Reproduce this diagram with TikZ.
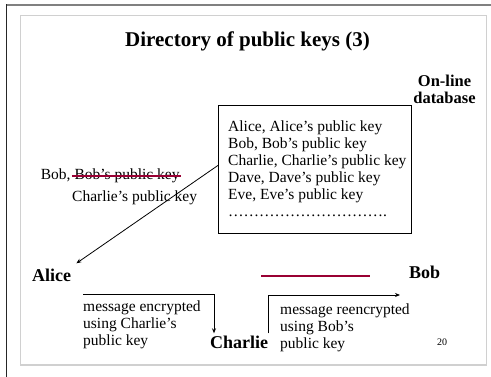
\documentclass[tikz,border=0pt]{standalone}
\usepackage{fontspec}
\setmainfont{Liberation Serif}
\usetikzlibrary{arrows.meta}
\definecolor{wine}{HTML}{990033}
\definecolor{framegray}{HTML}{D0D0D0}
\begin{document}
\begin{tikzpicture}[x=1pt,y=-1pt,
  body/.style={font=\fontsize{15.5}{17}\selectfont, inner sep=0pt, align=left},
  person/.style={font=\fontsize{18}{20}\selectfont\bfseries, inner sep=0pt},
  conn/.style={line width=0.8pt, -{Stealth[length=5pt,width=4pt]}}]
\useasboundingbox (0,0) rectangle (491,377);
% slide edges
\draw[line width=1.5pt, gray] (6,5) -- (491,5);
\draw[line width=1.5pt, black!85] (6.5,4.3) -- (6.5,377);
\draw[line width=1.2pt, framegray] (20.5,15.5) rectangle (486.5,365);
% title
\node[font=\fontsize{21}{24}\selectfont\bfseries, inner sep=0pt, anchor=base] (title) at (247.5,46.5) {Directory of public keys (3)};
% database (multi-line nodes are anchored at the baseline of their last line)
\node[draw, line width=0.8pt, minimum width=193pt, minimum height=128pt, anchor=north west, inner sep=0pt] (db) at (218,105) {};
\node[body, anchor=north west] (list) at (228,121) {Alice, Alice’s public key\\Bob, Bob’s public key\\Charlie, Charlie’s public key\\Dave, Dave’s public key\\Eve, Eve’s public key\\\ldots\ldots\ldots\ldots\ldots\ldots\ldots\ldots\ldots\ldots.};
\node[font=\fontsize{16.5}{15}\selectfont\bfseries, inner sep=0pt, align=center, anchor=base] (online) at (444.5,103.5) {On-line\\[1.5pt]database};
% tampered entry
\node[body, anchor=base west] (bobentry) at (40.7,179.5) {Bob,};
\node[body, anchor=base west] (oldkey) at (74.3,179.5) {Bob’s public key};
\node[body, anchor=base west] (fakekey) at (72,202) {Charlie’s public key};
\draw[wine, line width=1.8pt] ([xshift=-2.5pt,yshift=3.8pt]oldkey.base west) -- ([xshift=1.5pt,yshift=3.8pt]oldkey.base east);
% parties
\node[person, anchor=base west] (alice) at (32,282) {Alice};
\node[person, anchor=base west] (charlie) at (210,349) {Charlie};
\node[person, anchor=base west] (bob) at (409,279) {Bob};
\draw[wine, line width=1.8pt] (261,275.7) -- (370,275.7);
% messages
\node[body, anchor=base west] (msg1) at (83,345.5) {message encrypted\\using Charlie’s\\public key};
\node[body, anchor=base west] (msg2) at (280,348.5) {message reencrypted\\using Bob’s\\public key};
\coordinate (m1start) at (83,294.3);
\coordinate (m2end) at (400,295);
% connectors
\draw[conn] ([yshift=4pt]db.west) -- ([shift={(5,-6)}]alice.north east);
\draw[conn] (m1start) -| ([shift={(4,-3)}]charlie.north west);
\draw[conn] ([shift={(0,-3)}]charlie.north east) |- (m2end);
% page number
\node[font=\fontsize{10}{12}\selectfont, inner sep=0pt, anchor=base west] (page) at (437,345.5) {20};
\end{tikzpicture}
\end{document}
